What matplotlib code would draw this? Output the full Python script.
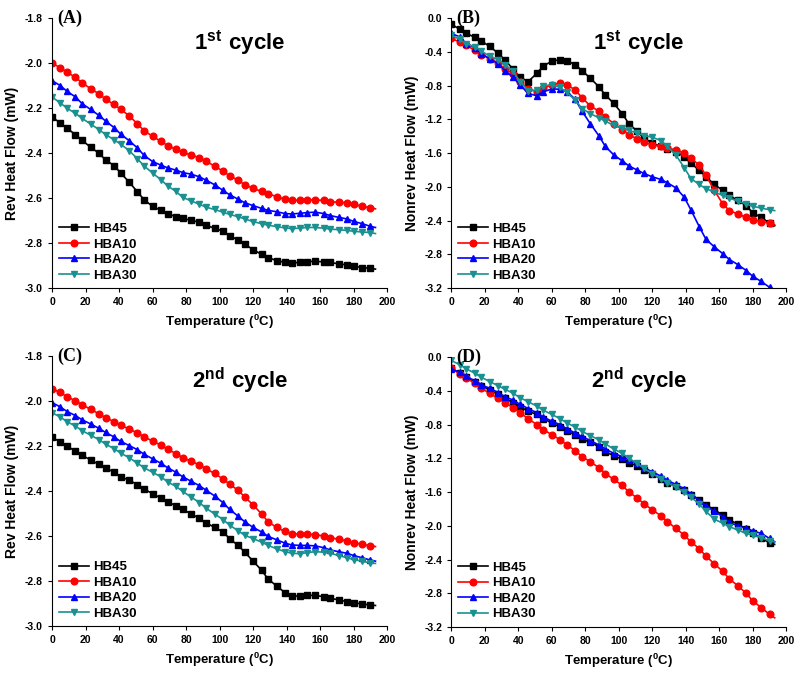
import numpy as np
import matplotlib
matplotlib.use('Agg')
from matplotlib import pyplot as plt

plt.rcParams['font.family'] = ['Liberation Sans', 'DejaVu Sans']
plt.rcParams['mathtext.fontset'] = 'custom'
plt.rcParams['mathtext.rm'] = 'Liberation Sans'
plt.rcParams['mathtext.bf'] = 'Liberation Sans:bold'

# temperatures (deg C) of the plotted points, last one has no marker
temp = [0, 5, 9, 14, 18, 23, 28, 32, 37, 41, 46, 51, 55, 60, 65, 69, 74, 78, 83, 88, 92,
        97, 102, 106, 111, 115, 120, 125, 129, 134, 139, 143, 148, 152, 157, 162, 166,
        171, 176, 180, 185, 190, 193]

series = ['HB45', 'HBA10', 'HBA20', 'HBA30']

# (A) rev heat flow, 1st cycle
a_hb45 = [-2.24, -2.265, -2.29, -2.317, -2.343, -2.373, -2.40, -2.43, -2.455, -2.488, -2.528,
          -2.572, -2.607, -2.636, -2.654, -2.669, -2.682, -2.69, -2.698, -2.707, -2.72, -2.734,
          -2.746, -2.767, -2.785, -2.805, -2.828, -2.85, -2.864, -2.877, -2.885, -2.888, -2.885,
          -2.882, -2.88, -2.883, -2.885, -2.892, -2.896, -2.902, -2.908, -2.912, -2.915]
a_hba10 = [-2.0, -2.02, -2.04, -2.063, -2.087, -2.113, -2.136, -2.16, -2.183, -2.205, -2.233,
           -2.27, -2.30, -2.325, -2.347, -2.366, -2.383, -2.396, -2.408, -2.42, -2.436, -2.457,
           -2.48, -2.50, -2.52, -2.54, -2.556, -2.57, -2.58, -2.593, -2.605, -2.608, -2.61,
           -2.608, -2.607, -2.61, -2.615, -2.618, -2.62, -2.627, -2.636, -2.642, -2.647]
a_hba20 = [-2.077, -2.10, -2.125, -2.15, -2.18, -2.205, -2.232, -2.257, -2.286, -2.315, -2.344,
           -2.377, -2.41, -2.437, -2.453, -2.465, -2.475, -2.486, -2.493, -2.505, -2.52, -2.54,
           -2.565, -2.585, -2.604, -2.62, -2.633, -2.645, -2.654, -2.66, -2.668, -2.67, -2.667,
           -2.664, -2.662, -2.668, -2.677, -2.685, -2.692, -2.703, -2.713, -2.725, -2.73]
a_hba30 = [-2.15, -2.177, -2.2, -2.223, -2.245, -2.27, -2.295, -2.317, -2.34, -2.36, -2.388,
           -2.425, -2.457, -2.488, -2.518, -2.545, -2.57, -2.596, -2.612, -2.627, -2.64, -2.65,
           -2.662, -2.672, -2.682, -2.692, -2.704, -2.713, -2.72, -2.726, -2.732, -2.735, -2.733,
           -2.73, -2.73, -2.733, -2.737, -2.74, -2.743, -2.747, -2.75, -2.753, -2.757]

# (B) nonrev heat flow, 1st cycle
b_hb45 = [-0.07, -0.13, -0.18, -0.225, -0.27, -0.335, -0.415, -0.495, -0.605, -0.70, -0.75,
          -0.655, -0.565, -0.51, -0.49, -0.505, -0.55, -0.62, -0.71, -0.81, -0.91, -1.01,
          -1.13, -1.25, -1.34, -1.42, -1.48, -1.52, -1.55, -1.58, -1.64, -1.72, -1.80, -1.88,
          -1.97, -2.04, -2.10, -2.16, -2.22, -2.31, -2.36, -2.43, -2.46]
b_hba10 = [-0.24, -0.28, -0.32, -0.38, -0.43, -0.48, -0.53, -0.6, -0.66, -0.75, -0.84, -0.87,
           -0.83, -0.79, -0.77, -0.79, -0.85, -0.94, -1.04, -1.1, -1.17, -1.25, -1.32, -1.38,
           -1.43, -1.47, -1.5, -1.52, -1.54, -1.56, -1.6, -1.66, -1.74, -1.86, -2.04, -2.2,
           -2.28, -2.32, -2.36, -2.39, -2.41, -2.43, -2.45]
b_hba20 = [-0.18, -0.22, -0.3, -0.35, -0.42, -0.48, -0.54, -0.62, -0.7, -0.79, -0.89, -0.92,
           -0.87, -0.84, -0.84, -0.87, -0.96, -1.1, -1.25, -1.39, -1.52, -1.62, -1.69, -1.75,
           -1.8, -1.84, -1.88, -1.91, -1.95, -2.01, -2.12, -2.27, -2.47, -2.62, -2.71, -2.79,
           -2.86, -2.92, -2.99, -3.06, -3.12, -3.19, -3.22]
b_hba30 = [-0.2, -0.25, -0.3, -0.34, -0.39, -0.45, -0.49, -0.55, -0.63, -0.75, -0.86, -0.85,
           -0.8, -0.79, -0.82, -0.88, -0.97, -1.07, -1.13, -1.18, -1.22, -1.27, -1.3, -1.33,
           -1.36, -1.39, -1.41, -1.45, -1.52, -1.62, -1.77, -1.9, -1.97, -2.02, -2.06, -2.1,
           -2.13, -2.17, -2.2, -2.23, -2.25, -2.27, -2.28]

# (C) rev heat flow, 2nd cycle
c_hb45 = [-2.16, -2.18, -2.2, -2.22, -2.24, -2.26, -2.28, -2.295, -2.315, -2.335, -2.35,
          -2.37, -2.39, -2.41, -2.43, -2.445, -2.465, -2.48, -2.5, -2.52, -2.54, -2.56, -2.58,
          -2.61, -2.64, -2.67, -2.71, -2.75, -2.79, -2.82, -2.85, -2.865, -2.865, -2.862,
          -2.862, -2.868, -2.875, -2.882, -2.89, -2.895, -2.9, -2.905, -2.907]
c_hba10 = [-1.945, -1.96, -1.98, -1.997, -2.015, -2.035, -2.055, -2.072, -2.09, -2.105, -2.123,
           -2.14, -2.158, -2.176, -2.195, -2.213, -2.232, -2.25, -2.266, -2.282, -2.3, -2.32,
           -2.345, -2.368, -2.395, -2.425, -2.46, -2.5, -2.535, -2.56, -2.578, -2.588, -2.59,
           -2.59, -2.592, -2.598, -2.605, -2.613, -2.62, -2.628, -2.635, -2.642, -2.645]
c_hba20 = [-2.005, -2.025, -2.045, -2.063, -2.082, -2.1, -2.12, -2.138, -2.158, -2.178, -2.196,
           -2.215, -2.235, -2.255, -2.275, -2.295, -2.315, -2.335, -2.355, -2.375, -2.395, -2.42,
           -2.45, -2.48, -2.51, -2.535, -2.56, -2.58, -2.6, -2.615, -2.63, -2.638, -2.64, -2.64,
           -2.642, -2.65, -2.66, -2.668, -2.675, -2.685, -2.695, -2.705, -2.71]
c_hba30 = [-2.05, -2.07, -2.09, -2.11, -2.13, -2.15, -2.17, -2.19, -2.21, -2.23, -2.25, -2.275,
           -2.295, -2.315, -2.335, -2.358, -2.378, -2.4, -2.425, -2.45, -2.475, -2.5, -2.525,
           -2.55, -2.575, -2.595, -2.61, -2.625, -2.64, -2.655, -2.668, -2.675, -2.677, -2.672,
           -2.668, -2.67, -2.675, -2.685, -2.695, -2.703, -2.71, -2.718, -2.72]

# (D) nonrev heat flow, 2nd cycle
d_hb45 = [-0.13, -0.19, -0.24, -0.29, -0.34, -0.39, -0.44, -0.49, -0.54, -0.59, -0.64, -0.68,
          -0.73, -0.78, -0.83, -0.88, -0.92, -0.97, -1.01, -1.06, -1.12, -1.17, -1.21, -1.25,
          -1.29, -1.34, -1.39, -1.44, -1.49, -1.53, -1.58, -1.63, -1.69, -1.75, -1.81, -1.87,
          -1.93, -1.98, -2.04, -2.09, -2.15, -2.2, -2.22]
d_hba10 = [-0.13, -0.2, -0.25, -0.31, -0.37, -0.43, -0.49, -0.54, -0.6, -0.66, -0.73, -0.8,
           -0.86, -0.92, -0.98, -1.04, -1.11, -1.18, -1.24, -1.31, -1.38, -1.45, -1.52, -1.6,
           -1.67, -1.74, -1.81, -1.88, -1.95, -2.03, -2.11, -2.19, -2.27, -2.36, -2.45, -2.54,
           -2.63, -2.71, -2.8, -2.89, -2.97, -3.05, -3.09]
d_hba20 = [-0.14, -0.18, -0.23, -0.28, -0.33, -0.37, -0.42, -0.47, -0.51, -0.56, -0.61, -0.66,
           -0.71, -0.76, -0.8, -0.85, -0.9, -0.94, -0.99, -1.04, -1.09, -1.14, -1.18, -1.22,
           -1.26, -1.31, -1.36, -1.41, -1.46, -1.51, -1.56, -1.62, -1.7, -1.76, -1.83, -1.89,
           -1.96, -2.0, -2.03, -2.06, -2.09, -2.15, -2.19]
d_hba30 = [-0.04, -0.09, -0.14, -0.19, -0.24, -0.29, -0.34, -0.38, -0.43, -0.48, -0.53, -0.58,
           -0.63, -0.68, -0.73, -0.78, -0.83, -0.88, -0.93, -0.98, -1.03, -1.09, -1.14, -1.2,
           -1.26, -1.32, -1.38, -1.44, -1.49, -1.54, -1.6, -1.66, -1.74, -1.83, -1.92, -1.97,
           -2.01, -2.05, -2.09, -2.11, -2.14, -2.18, -2.19]

colors = ['black', '#ff0000', '#0000ff', '#1a9090']
markers = ['s', 'o', '^', 'v']

panels = [
    ('(A)', r'$\mathbf{1^{st}\ cycle}$', 'Rev Heat Flow (mW)', (-3.0, -1.8), 0.2,
     [a_hb45, a_hba10, a_hba20, a_hba30], [0.065, 0.573, 0.419, 0.40]),
    ('(B)', r'$\mathbf{1^{st}\ cycle}$', 'Nonrev Heat Flow (mW)', (-3.2, 0.0), 0.4,
     [b_hb45, b_hba10, b_hba20, b_hba30], [0.564, 0.573, 0.419, 0.40]),
    ('(C)', r'$\mathbf{2^{nd}\ cycle}$', 'Rev Heat Flow (mW)', (-3.0, -1.8), 0.2,
     [c_hb45, c_hba10, c_hba20, c_hba30], [0.065, 0.072, 0.419, 0.40]),
    ('(D)', r'$\mathbf{2^{nd}\ cycle}$', 'Nonrev Heat Flow (mW)', (-3.2, 0.0), 0.4,
     [d_hb45, d_hba10, d_hba20, d_hba30], [0.564, 0.071, 0.419, 0.40]),
]

fig = plt.figure(figsize=(8, 6.75), dpi=100)
for letter, title, ylab, ylim, ystep, data, rect in panels:
    ax = fig.add_axes(rect)
    for name, vals, c, m in zip(series, data, colors, markers):
        ax.plot(temp, vals, color=c, marker=m, markersize=4.8, linewidth=1.2,
                markevery=list(range(len(temp) - 1)), label=name)
    ax.set_xlim(0, 200)
    ax.set_ylim(*ylim)
    ax.set_xticks(np.arange(0, 201, 20))
    ax.set_yticks(np.round(np.arange(ylim[0], ylim[1] + 0.001, ystep), 2) + 0.0)
    ax.yaxis.set_major_formatter(matplotlib.ticker.FuncFormatter(
        lambda v, p: '%.1f' % (round(v, 2) + 0.0)))
    ax.spines['top'].set_visible(False)
    ax.spines['right'].set_visible(False)
    ax.tick_params(direction='out', length=3, labelsize=7.5)
    for t in ax.get_xticklabels() + ax.get_yticklabels():
        t.set_fontweight('bold')
    ax.set_xlabel(r'Temperature ($\mathbf{^{0}}$C)', fontsize=9.5, fontweight='bold')
    ax.set_ylabel(ylab, fontsize=10, fontweight='bold')
    ax.text(0.015, 1.0, letter, transform=ax.transAxes, family='Liberation Serif',
            fontsize=13, fontweight='bold', va='center', ha='left')
    ax.text(0.56, 0.91, title, transform=ax.transAxes, fontsize=16, ha='center', va='center')
    ax.legend(loc='lower left', frameon=False, prop={'weight': 'bold', 'size': 9.5},
              handlelength=2.3, borderaxespad=0.1, labelspacing=0.25, handletextpad=0.3)

plt.savefig('out.png', dpi=100)
